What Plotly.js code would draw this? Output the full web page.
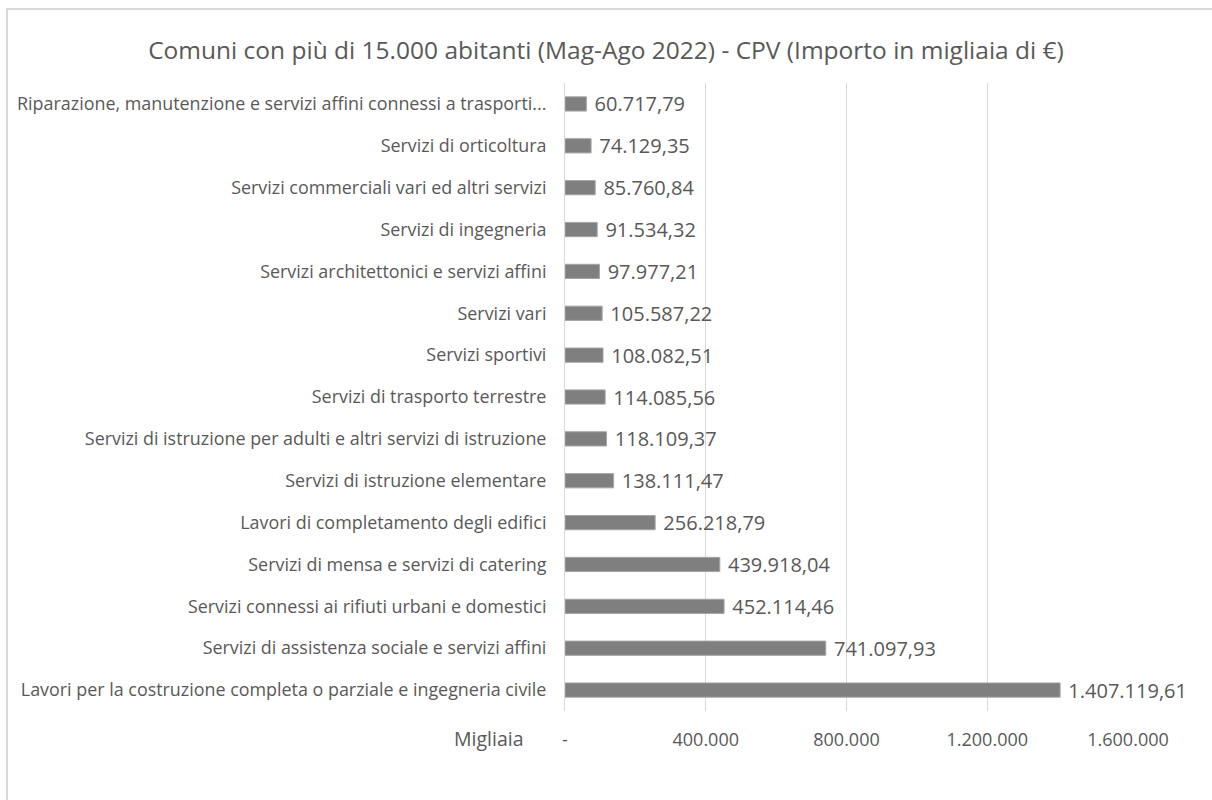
<!DOCTYPE html>
<html>
<head>
<meta charset="utf-8">
<script src="https://cdn.plot.ly/plotly-3.0.1.min.js"></script>
<style>
html,body{margin:0;padding:0;background:#fff;}
#frame{position:absolute;left:6px;top:8px;width:1206px;height:792px;border-left:2px solid #d9d9d9;border-top:2px solid #d9d9d9;box-sizing:border-box;}
#chart{position:absolute;left:0;top:0;width:1212px;height:800px;}
</style>
</head>
<body>
<div id="frame"></div>
<div id="chart"></div>
<script>
const categories = [
  "Riparazione, manutenzione e servizi affini connessi a trasporti...",
  "Servizi di orticoltura",
  "Servizi commerciali vari ed altri servizi",
  "Servizi di ingegneria",
  "Servizi architettonici e servizi affini",
  "Servizi vari",
  "Servizi sportivi",
  "Servizi di trasporto terrestre",
  "Servizi di istruzione per adulti e altri servizi di istruzione",
  "Servizi di istruzione elementare",
  "Lavori di completamento degli edifici",
  "Servizi di mensa e servizi di catering",
  "Servizi connessi ai rifiuti urbani e domestici",
  "Servizi di assistenza sociale e servizi affini",
  "Lavori per la costruzione completa o parziale e ingegneria civile"
];
const values = [
  60717.79, 74129.35, 85760.84, 91534.32, 97977.21, 105587.22, 108082.51,
  114085.56, 118109.37, 138111.47, 256218.79, 439918.04, 452114.46,
  741097.93, 1407119.61
];
const tickValues = [0, 400000, 800000, 1200000, 1600000];
const tickLabels = ["-", "400.000", "800.000", "1.200.000", "1.600.000"];

const textColor = "#595959";
const fontFam = "'Open Sans', Lato, sans-serif";

const trace = {
  type: "bar",
  orientation: "h",
  x: values,
  y: categories,
  marker: {color: "#7f7f7f", line: {color: "#a6a6a6", width: 1}},
  texttemplate: "\u00a0%{x:,.2f}",
  textposition: "outside",
  constraintext: "none",
  cliponaxis: false,
  textfont: {family: fontFam, size: 20, color: textColor},
  hoverinfo: "none"
};

const layout = {
  width: 1212,
  height: 800,
  separators: ",.",
  paper_bgcolor: "rgba(0,0,0,0)",
  plot_bgcolor: "rgba(0,0,0,0)",
  margin: {l: 565, r: 84, t: 83, b: 89},
  bargap: 0.66,
  showlegend: false,
  title: {
    text: "Comuni con più di 15.000 abitanti (Mag-Ago 2022) - CPV (Importo in migliaia di €)",
    font: {family: fontFam, size: 24.5, color: textColor},
    x: 0.5, xanchor: "center", y: 0.937, yanchor: "middle"
  },
  xaxis: {
    range: [0, 1600000],
    tickvals: tickValues,
    ticktext: tickLabels,
    showgrid: true,
    gridcolor: "#d9d9d9",
    gridwidth: 1,
    zeroline: false,
    showline: false,
    ticks: "",
    ticklabelstandoff: 16,
    tickfont: {family: fontFam, size: 18, color: textColor},
    fixedrange: true
  },
  yaxis: {
    autorange: "reversed",
    showline: true,
    linecolor: "#d9d9d9",
    linewidth: 1,
    showgrid: false,
    ticks: "",
    ticklabelstandoff: 14,
    tickfont: {family: fontFam, size: 17.9, color: textColor},
    fixedrange: true
  },
  annotations: [{
    text: "Migliaia",
    xref: "paper", yref: "paper",
    x: -0.07, y: 0, xanchor: "right", yanchor: "top", yshift: -12,
    showarrow: false,
    font: {family: fontFam, size: 19.5, color: textColor}
  }]
};

Plotly.newPlot("chart", [trace], layout, {displayModeBar: false, staticPlot: true});
</script>
</body>
</html>
